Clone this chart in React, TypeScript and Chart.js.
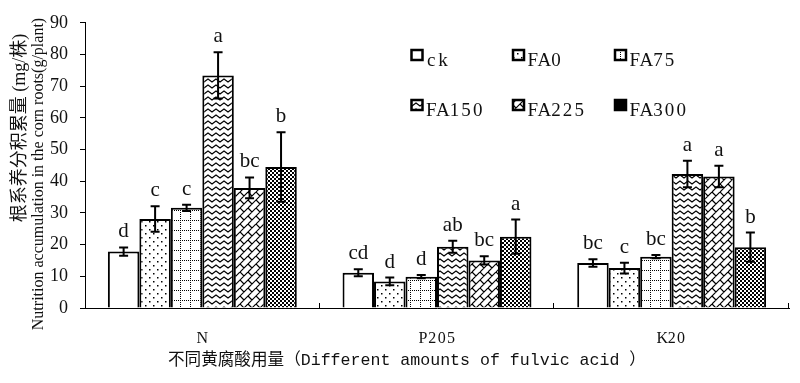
import React, { useEffect, useRef } from "react";
import { Chart, registerables } from "chart.js";

Chart.register(...registerables);

const categories = ["N", "P205", "K20"];
const seriesNames = ["ck", "FA0", "FA75", "FA150", "FA225", "FA300"];

const ckValues = [17.8, 11.1, 14.2];
const fa0Values = [28.1, 8.4, 12.6];
const fa75Values = [31.6, 9.9, 16.2];
const fa150Values = [73.4, 19.3, 42.3];
const fa225Values = [37.9, 15.0, 41.5];
const fa300Values = [44.5, 22.5, 19.2];

const ckErrors = [1.3, 1.1, 1.2];
const fa0Errors = [4.0, 1.2, 1.7];
const fa75Errors = [1.0, 0.5, 0.5];
const fa150Errors = [7.3, 1.9, 4.2];
const fa225Errors = [3.3, 1.3, 3.4];
const fa300Errors = [11.0, 5.4, 4.6];

const ckLetters = ["d", "cd", "bc"];
const fa0Letters = ["c", "d", "c"];
const fa75Letters = ["c", "d", "bc"];
const fa150Letters = ["a", "ab", "a"];
const fa225Letters = ["bc", "bc", "a"];
const fa300Letters = ["b", "a", "b"];

const yTicks = [0, 10, 20, 30, 40, 50, 60, 70, 80, 90];

const yTitleCn = "根系养分积累量 (mg/株)";
const yTitleEn = "Nutrition accumulation in the corn roots(g/plant)";
const xTitle = "不同黄腐酸用量（Different amounts of fulvic acid ）";

const allValues = [ckValues, fa0Values, fa75Values, fa150Values, fa225Values, fa300Values];
const allErrors = [ckErrors, fa0Errors, fa75Errors, fa150Errors, fa225Errors, fa300Errors];
const allLetters = [ckLetters, fa0Letters, fa75Letters, fa150Letters, fa225Letters, fa300Letters];

function makeTile(w: number, h: number, draw: (c: CanvasRenderingContext2D) => void): CanvasPattern {
  const cv = document.createElement("canvas");
  cv.width = w;
  cv.height = h;
  const c = cv.getContext("2d")!;
  c.fillStyle = "#fff";
  c.fillRect(0, 0, w, h);
  draw(c);
  return c.createPattern(cv, "repeat")!;
}

function makePatterns(): (CanvasPattern | string)[] {
  const white = "#ffffff";
  const dots = makeTile(8, 8, (c) => {
    c.fillStyle = "#000";
    c.fillRect(1, 1, 1.5, 1.5);
    c.fillRect(5, 5, 1.5, 1.5);
  });
  const dottedGrid = makeTile(10, 10, (c) => {
    c.fillStyle = "#000";
    for (let i = 0; i < 10; i += 2) {
      c.fillRect(0, i, 1, 1);
      c.fillRect(i, 0, 1, 1);
    }
  });
  const wave = makeTile(8, 6, (c) => {
    c.strokeStyle = "#000";
    c.lineWidth = 1.2;
    c.beginPath();
    c.moveTo(-4, 4);
    c.lineTo(0, 1);
    c.lineTo(4, 4);
    c.lineTo(8, 1);
    c.lineTo(12, 4);
    c.stroke();
  });
  const brick = makeTile(16, 16, (c) => {
    c.strokeStyle = "#000";
    c.lineWidth = 1.2;
    c.beginPath();
    for (let k = -8; k <= 48; k += 8) {
      c.moveTo(k + 16, -16);
      c.lineTo(k - 16, 16);
    }
    for (let k = -3; k <= 6; k++) {
      const base = ((k % 2) + 2) % 2 === 0 ? 0 : 8;
      for (let m = -3; m <= 3; m++) {
        const cc = base + 16 * m;
        c.moveTo((8 * k + cc) / 2, (8 * k - cc) / 2);
        c.lineTo((8 * k + 8 + cc) / 2, (8 * k + 8 - cc) / 2);
      }
    }
    c.stroke();
  });
  const checker = makeTile(4, 4, (c) => {
    c.fillStyle = "#000";
    c.fillRect(0, 0, 2, 2);
    c.fillRect(2, 2, 2, 2);
  });
  return [white, dots, dottedGrid, wave, brick, checker];
}

// draw text with a fixed pitch per character (monospaced look with a serif face)
function drawMono(ctx: CanvasRenderingContext2D, text: string, x: number, y: number, pitch: number, font: string, align: "left" | "center" = "left") {
  ctx.save();
  ctx.font = font;
  ctx.textAlign = "center";
  const chars = Array.from(text);
  const start = align === "center" ? x - (chars.length * pitch) / 2 : x;
  chars.forEach((ch, i) => {
    ctx.fillText(ch, start + pitch * (i + 0.5), y);
  });
  ctx.restore();
}

export default function App() {
  const ref = useRef<HTMLCanvasElement | null>(null);

  useEffect(() => {
    if (!ref.current) return;
    const patterns = makePatterns();
    const legendPatterns = [
      "#ffffff",
      patterns[1],
      patterns[2],
      patterns[3],
      patterns[4],
      "#000000",
    ];

    const extras = {
      id: "extras",
      afterDatasetsDraw(chart: any) {
        const ctx = chart.ctx as CanvasRenderingContext2D;
        const y = chart.scales.y;
        ctx.save();
        allValues.forEach((vals, di) => {
          const meta = chart.getDatasetMeta(di);
          meta.data.forEach((bar: any, i: number) => {
            const v = vals[i];
            const e = allErrors[di][i];
            const yt = y.getPixelForValue(v + e);
            const yb = y.getPixelForValue(v - e);
            ctx.strokeStyle = "#000";
            ctx.lineWidth = 2;
            ctx.beginPath();
            ctx.moveTo(bar.x, yt);
            ctx.lineTo(bar.x, yb);
            ctx.moveTo(bar.x - 4.5, yt);
            ctx.lineTo(bar.x + 4.5, yt);
            ctx.moveTo(bar.x - 4.5, yb);
            ctx.lineTo(bar.x + 4.5, yb);
            ctx.stroke();
            ctx.fillStyle = "#111";
            ctx.font = '21px "Liberation Serif"';
            ctx.textAlign = "center";
            ctx.textBaseline = "alphabetic";
            ctx.fillText(allLetters[di][i], bar.x, yt - 10);
          });
        });
        const area = chart.chartArea;
        const n = categories.length;
        ctx.strokeStyle = "#000";
        ctx.lineWidth = 1;
        for (let i = 1; i <= n; i++) {
          const px = Math.round(area.left + ((area.right - area.left) * i) / n) - 0.5;
          ctx.beginPath();
          ctx.moveTo(px, area.bottom);
          ctx.lineTo(px, area.bottom - 5);
          ctx.stroke();
        }
        ctx.restore();
      },
      afterDraw(chart: any) {
        const ctx = chart.ctx as CanvasRenderingContext2D;
        const x = chart.scales.x;
        const area = chart.chartArea;
        ctx.save();
        ctx.fillStyle = "#111";
        ctx.textBaseline = "alphabetic";
        categories.forEach((c, i) => {
          drawMono(ctx, c, x.getPixelForTick(i), area.bottom + 35, 9.3, '16px "Liberation Serif"', "center");
        });
        const colX = [411.5, 513, 615];
        const rowY = [50, 100];
        seriesNames.forEach((name, i) => {
          const bx = colX[i % 3];
          const by = rowY[Math.floor(i / 3)];
          ctx.fillStyle = legendPatterns[i] as any;
          ctx.fillRect(bx, by, 11, 10);
          ctx.strokeStyle = "#000";
          ctx.lineWidth = 2.5;
          ctx.strokeRect(bx, by, 11, 10);
          ctx.fillStyle = "#111";
          drawMono(ctx, name, bx + 14, by + 16, 11.6, '19px "Liberation Serif"');
        });
        ctx.fillStyle = "#111";
        ctx.textAlign = "center";
        ctx.textBaseline = "middle";
        ctx.save();
        ctx.translate(20, 128);
        ctx.rotate(-Math.PI / 2);
        ctx.font = '18px "Liberation Serif", "Noto Sans CJK SC"';
        ctx.fillText(yTitleCn, 0, 0);
        ctx.restore();
        ctx.save();
        ctx.translate(39, 174);
        ctx.rotate(-Math.PI / 2);
        ctx.font = '16px "Liberation Serif"';
        ctx.fillText(yTitleEn, 0, 0);
        ctx.restore();
        ctx.font = '16.6px "Liberation Mono", "Noto Sans CJK SC"';
        ctx.textAlign = "left";
        ctx.textBaseline = "middle";
        ctx.fillText(xTitle, 168, 361);
        ctx.restore();
      },
    };

    const chart = new Chart(ref.current, {
      type: "bar",
      data: {
        labels: categories,
        datasets: seriesNames.map((name, i) => ({
          label: name,
          data: allValues[i],
          backgroundColor: patterns[i] as any,
          borderColor: "#000",
          borderWidth: 2,
          barPercentage: 1,
          categoryPercentage: 0.805,
        })),
      },
      options: {
        responsive: false,
        animation: false,
        layout: { padding: { top: 20, right: 11, left: 0, bottom: 0 } },
        plugins: {
          legend: { display: false },
          tooltip: { enabled: false },
          title: { display: false },
        },
        scales: {
          x: {
            grid: { display: false },
            border: { display: true, color: "#000", width: 1 },
            ticks: { display: false },
            afterFit: (s: any) => {
              s.height = 75;
            },
          },
          y: {
            min: 0,
            max: 90,
            afterBuildTicks: (s: any) => {
              s.ticks = yTicks.map((v) => ({ value: v }));
            },
            grid: {
              display: true,
              drawOnChartArea: false,
              drawTicks: true,
              tickLength: 5,
              color: "#000",
            },
            border: { display: true, color: "#000", width: 1 },
            ticks: {
              color: "#111",
              font: { family: "Liberation Serif", size: 18 },
              padding: 12,
            },
            afterFit: (s: any) => {
              s.width = 85;
            },
          },
        },
      },
      plugins: [extras],
    });
    return () => chart.destroy();
  }, []);

  return (
    <div style={{ position: "absolute", left: 0, top: 0, width: 800, height: 383, background: "#fff" }}>
      <canvas ref={ref} width={800} height={383} style={{ display: "block" }} />
    </div>
  );
}
